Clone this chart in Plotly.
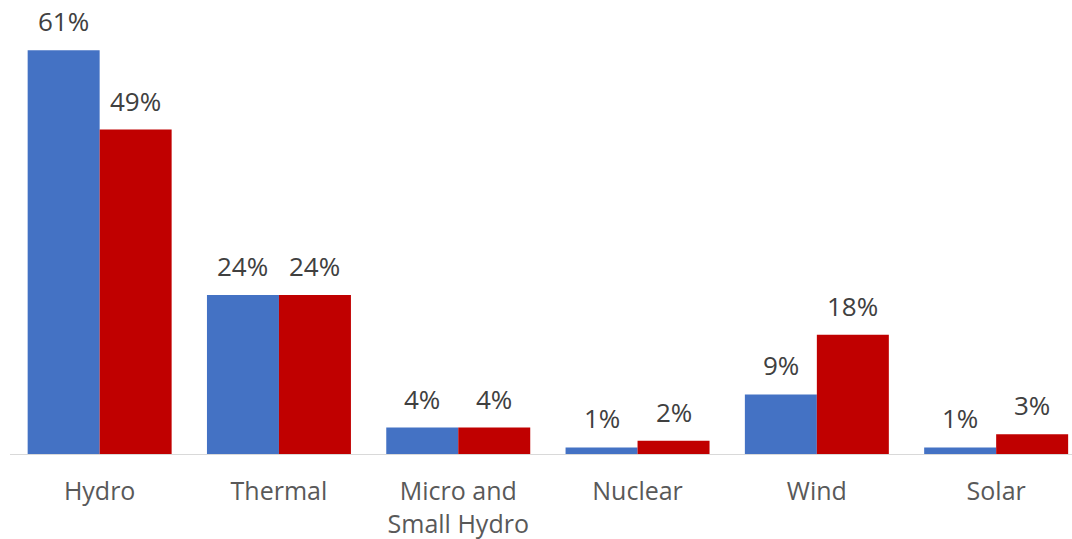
import plotly.graph_objects as go

# Share of electricity generation by source, two series
categories = ["Hydro", "Thermal", "Micro and<br>Small Hydro", "Nuclear", "Wind", "Solar"]
series_a = [61, 24, 4, 1, 9, 1]
series_b = [49, 24, 4, 2, 18, 3]

BLUE = "#4472C4"
RED = "#C00000"
FONT = "Open Sans"

fig = go.Figure()
fig.add_trace(go.Bar(x=categories, y=series_a, marker=dict(color=BLUE, line=dict(width=0)),
                     name="A", hoverinfo="y"))
fig.add_trace(go.Bar(x=categories, y=series_b, marker=dict(color=RED, line=dict(width=0)),
                     name="B", hoverinfo="y"))

# value labels above each bar
half_bar = 36
for vals, shift in ((series_a, -half_bar), (series_b, half_bar)):
    for cat, v in zip(categories, vals):
        fig.add_annotation(x=cat, y=v, text=f"{v}%", showarrow=False,
                           xshift=shift, yshift=9, yanchor="bottom",
                           font=dict(family=FONT, size=26, color="#404040"))

fig.update_layout(
    width=1072, height=539,
    margin=dict(l=10, r=0, t=21, b=85, autoexpand=False),
    barmode="group", bargap=0.197, bargroupgap=0,
    showlegend=False,
    plot_bgcolor="white", paper_bgcolor="white",
    font=dict(family=FONT, size=25, color="#595959"),
)
fig.update_xaxes(range=[-0.5, 5.423], showline=True, linecolor="#D9D9D9", linewidth=1,
                 showgrid=False, zeroline=False, ticks="outside", ticklen=15, automargin=False,
                 tickcolor="rgba(0,0,0,0)", tickfont=dict(family=FONT, size=25, color="#595959"))
fig.update_yaxes(range=[0, 65.4], visible=False, showgrid=False, zeroline=False, automargin=False)

fig.write_html("out.html")
